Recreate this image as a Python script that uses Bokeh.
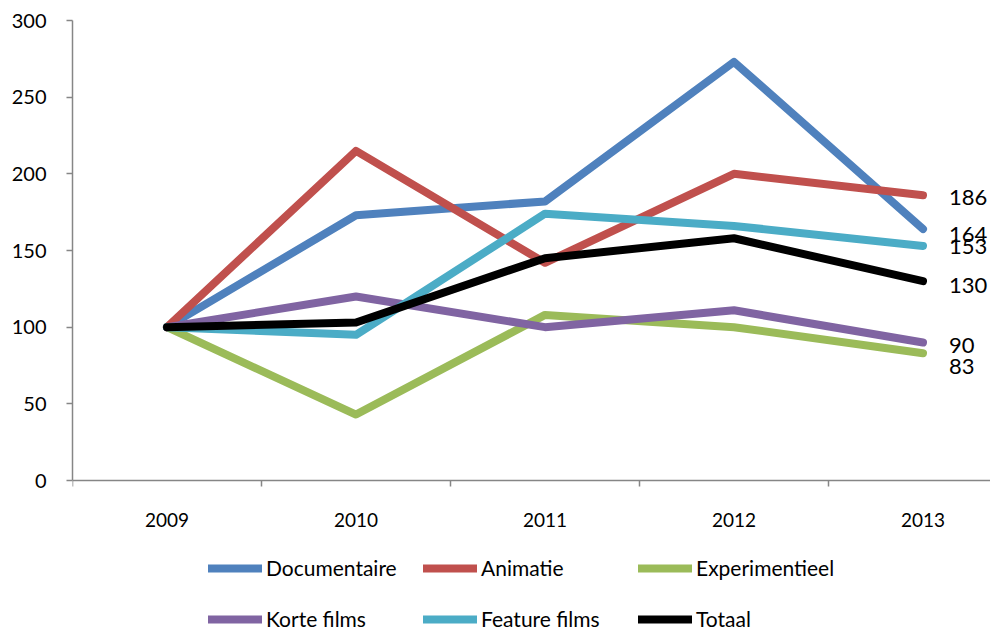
from bokeh.plotting import figure
from bokeh.models import FixedTicker, Legend, LegendItem, Range1d
from bokeh.core.properties import value
from bokeh.embed import file_html
from bokeh.resources import INLINE

years = [2009, 2010, 2011, 2012, 2013]
series_names = ["Documentaire", "Animatie", "Experimentieel", "Korte films", "Feature films", "Totaal"]
documentaire = [100, 173, 182, 273, 164]
animatie = [100, 215, 142, 200, 186]
experimentieel = [100, 43, 108, 100, 83]
korte_films = [100, 120, 100, 111, 90]
feature_films = [100, 95, 174, 166, 153]
totaal = [100, 103, 145, 158, 130]
y_ticks = [0, 50, 100, 150, 200, 250, 300]

colors = ["#4F81BD", "#C0504D", "#9BBB59", "#8064A2", "#4BACC6", "#000000"]
all_series = [documentaire, animatie, experimentieel, korte_films, feature_films, totaal]
# pixel nudges of the end labels (same order as the series)
label_dy = [5, 2, 13, 3, 1, 4]

FONT = "Lato"
FRAME_W = 918
PLOT_H = 460      # pixels for 0..300
EXTRA_H = 151     # room under the x axis for labels and legend
Y_MAX = 300

p = figure(frame_width=FRAME_W, frame_height=PLOT_H + EXTRA_H, output_backend="svg",
           toolbar_location=None,
           x_range=Range1d(2008.5, 2008.5 + FRAME_W / 189.0),
           y_range=Range1d(-EXTRA_H * Y_MAX / PLOT_H, Y_MAX),
           min_border_left=72, min_border_right=0, min_border_top=20, min_border_bottom=0)
p.outline_line_color = None
p.xgrid.visible = False
p.ygrid.visible = False
p.background_fill_color = "white"
p.border_fill_color = "white"

axis_color = "#868686"
p.yaxis.ticker = FixedTicker(ticks=y_ticks)
p.yaxis.bounds = (0, Y_MAX)
p.yaxis.axis_line_color = axis_color
p.yaxis.axis_line_width = 1.5
p.yaxis.major_tick_line_color = axis_color
p.yaxis.major_tick_line_width = 1.5
p.yaxis.major_tick_out = 6
p.yaxis.major_tick_in = 0
p.yaxis.minor_tick_line_color = None
p.yaxis.major_label_standoff = 20
p.yaxis.major_label_text_font = FONT
p.yaxis.major_label_text_font_size = "20px"
p.yaxis.major_label_text_color = "black"

p.xaxis.fixed_location = 0
p.xaxis.ticker = FixedTicker(ticks=years, minor_ticks=[y - 0.5 for y in years] + [2013.5])
p.xaxis.axis_line_color = axis_color
p.xaxis.axis_line_width = 1.5
p.xaxis.major_tick_line_color = None
p.xaxis.minor_tick_line_color = axis_color
p.xaxis.minor_tick_line_width = 1.5
p.xaxis.minor_tick_out = 6
p.xaxis.minor_tick_in = 0
p.xaxis.major_label_standoff = 26
p.xaxis.major_label_text_font = FONT
p.xaxis.major_label_text_font_size = "19px"
p.xaxis.major_label_text_color = "black"

renderers = []
for name, vals, c in zip(series_names, all_series, colors):
    r = p.line(years, vals, line_color=c, line_width=8, line_cap="round", line_join="round")
    renderers.append(r)

for vals, dy in zip(all_series, label_dy):
    p.text(x=[years[-1]], y=[vals[-1]], text=[str(vals[-1])], x_offset=26, y_offset=dy,
           text_font=value(FONT), text_font_size="22px", text_color="black",
           text_baseline="middle", text_align="left")

# legend fills column-first, so interleave rows
order = [0, 3, 1, 4, 2, 5]
lg = Legend(items=[LegendItem(label=series_names[i], renderers=[renderers[i]]) for i in order],
            ncols=3, location=(136, 0),
            glyph_width=54, glyph_height=22, label_height=22, label_width=131,
            label_standoff=4, padding=0, margin=0, spacing=26,
            border_line_color=None, background_fill_alpha=0,
            label_text_font=FONT, label_text_font_size="21px",
            label_text_color="black")
p.add_layout(lg, "center")

open("out.html", "w").write(file_html(p, INLINE))
